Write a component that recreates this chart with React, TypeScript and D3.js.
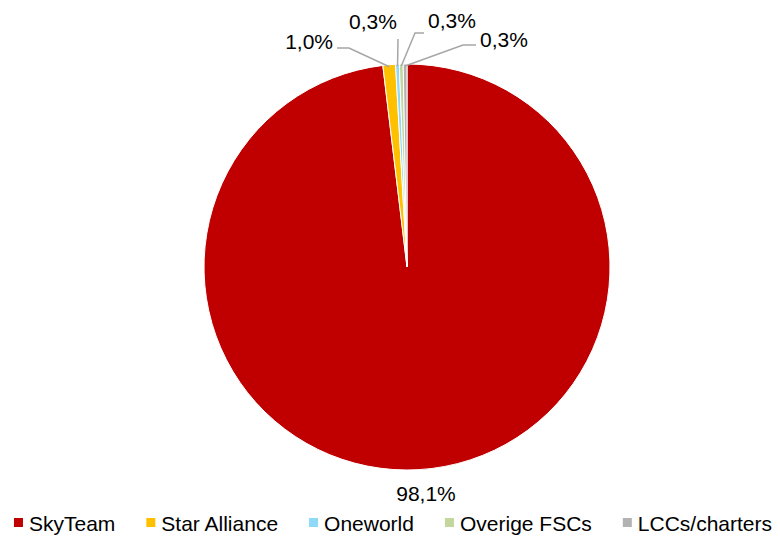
import * as d3 from "d3"
import { useEffect, useRef } from "react"

const categories = ["SkyTeam", "Star Alliance", "Oneworld", "Overige FSCs", "LCCs/charters"]
const shares = [98.1, 1.0, 0.3, 0.3, 0.3]
const labels = ["98,1%", "1,0%", "0,3%", "0,3%", "0,3%"]
const colors = ["#C00000", "#FFC000", "#8ED8F8", "#C3D69B", "#B2B2B2"]

// label placement (dx, dy from pie centre, anchor) – tweaked by hand like excel does
const labelPos: { x: number; y: number; anchor: string; elbow?: [number, number] | null }[] = [
    { x: 19, y: 234, anchor: "middle", elbow: null },
    { x: -74, y: -218, anchor: "end", elbow: [-58, -219] },
    { x: -34, y: -238, anchor: "middle", elbow: [-9, -228] },
    { x: 21, y: -239, anchor: "start", elbow: [8, -234] },
    { x: 73, y: -220, anchor: "start", elbow: [56, -222] },
]

export default function App() {
    const ref = useRef<SVGSVGElement | null>(null)

    useEffect(() => {
        const width = 780
        const height = 541
        const cx = 407
        const cy = 267
        const radius = 203
        const font = "'Liberation Sans', Arial, sans-serif"

        const svg = d3.select(ref.current)
        svg.selectAll("*").remove()
        svg.attr("width", width).attr("height", height)

        const pie = d3.pie<number>().sort(null).value((d) => d)
        const arcs = pie(shares)
        const arc = d3.arc<d3.PieArcDatum<number>>().innerRadius(0).outerRadius(radius)

        const g = svg.append("g").attr("transform", `translate(${cx},${cy})`)

        g.selectAll("path")
            .data(arcs)
            .join("path")
            .attr("d", arc)
            .attr("fill", (d, i) => colors[i])
            .attr("stroke", "#fff")
            .attr("stroke-width", 1)

        // leader lines
        arcs.forEach((d, i) => {
            const lp = labelPos[i]
            if (!lp.elbow) return
            const mid = (d.startAngle + d.endAngle) / 2
            const r = radius - 2
            const p0: [number, number] = [Math.sin(mid) * r, -Math.cos(mid) * r]
            const pts: [number, number][] = [p0, lp.elbow]
            if (lp.anchor === "end") pts.push([lp.x + 4, lp.elbow[1]])
            else if (lp.anchor === "start") pts.push([lp.x - 4, lp.elbow[1]])
            g.append("path")
                .attr("d", d3.line()(pts))
                .attr("fill", "none")
                .attr("stroke", "#A6A6A6")
                .attr("stroke-width", 1.5)
        })

        g.selectAll("text.lbl")
            .data(arcs)
            .join("text")
            .attr("class", "lbl")
            .attr("x", (d, i) => labelPos[i].x)
            .attr("y", (d, i) => labelPos[i].y)
            .attr("text-anchor", (d, i) => labelPos[i].anchor)
            .attr("font-family", font)
            .attr("font-size", 21)
            .attr("fill", "#000")
            .text((d, i) => labels[i])

        // legend
        const legend = svg.append("g")
        const items = legend.selectAll("g")
            .data(categories)
            .join("g")
        items.append("rect")
            .attr("width", 9)
            .attr("height", 9)
            .attr("y", -13)
            .attr("fill", (d, i) => colors[i])
        const texts = items.append("text")
            .attr("x", 15)
            .attr("font-family", font)
            .attr("font-size", 21)
            .text((d) => d)

        let x = 0
        texts.each(function (d, i) {
            const w = (this as SVGTextElement).getComputedTextLength()
            d3.select((this as SVGTextElement).parentNode as SVGGElement).attr("transform", `translate(${x},0)`)
            x += 15 + w + 31
        })
        const total = x - 31
        legend.attr("transform", `translate(${393 - total / 2},531)`)
    }, [])

    return <svg ref={ref} style={{ position: "absolute", left: 0, top: 0, background: "#fff" }} />
}
